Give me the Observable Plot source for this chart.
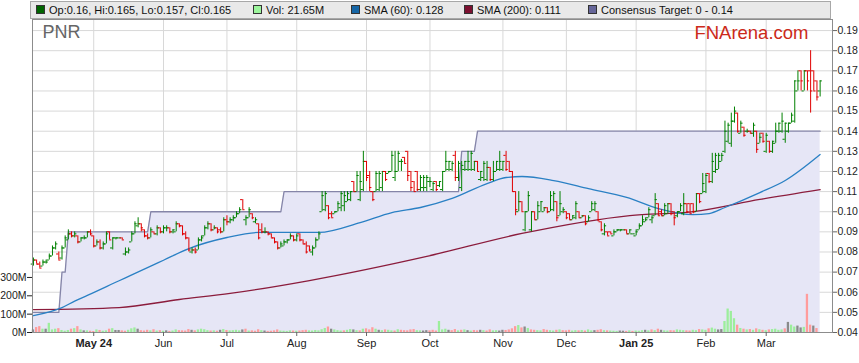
<!DOCTYPE html>
<html><head><meta charset="utf-8">
<script src="https://cdn.jsdelivr.net/npm/d3@7"></script>
<script src="https://cdn.jsdelivr.net/npm/@observablehq/plot@0.6"></script>
<style>
body{margin:0;background:#fff;font-family:"Liberation Sans",Arial,sans-serif;}
#wrap{position:relative;width:859px;height:363px;overflow:hidden;background:#fff;}
#wrap svg{position:absolute;left:0;top:0;}
#legend{position:absolute;left:30px;top:1px;width:799px;height:16px;background:#e9e9e9;border:1px solid #a8a8a8;font-size:11px;color:#111;line-height:16px;}
.item{position:absolute;top:0;white-space:nowrap;}
.sw{display:inline-block;width:7px;height:7px;border:1px solid #333;margin-right:4px;vertical-align:-0px;}
</style></head><body><div id="wrap"><div id="legend"></div></div>
<script>
// ---- data (prices in thousandths of a dollar) ----
const ohlc = [
[74,77,73,76],[76,76,74,74],[74,75,72,72],[73,76,73,75],[75,76,74,75],[76,79,76,78],[78,83,78,82],[82,85,81,84],[79,80,76,76],[77,83,76,82],
[82,88,82,87],[86,91,86,89],[89,90,87,88],[88,90,87,89],[88,88,84,85],[85,87,85,87],[87,88,86,87],[87,90,87,90],[90,91,88,89],[88,88,82,83],
[83,86,83,85],[85,86,81,82],[82,85,81,84],[84,90,84,89],[90,90,86,86],[82,87,81,87],[87,87,86,87],[87,87,87,87],[87,87,86,86],[79,82,78,80],
[80,82,79,81],[85,90,85,89],[89,95,89,94],[93,97,92,94],[94,94,90,92],[91,91,87,88],[88,89,86,87],[87,92,87,91],[90,90,89,89],[89,93,88,92],
[92,92,89,90],[90,93,89,92],[92,93,90,92],[92,92,89,90],[90,91,89,91],[90,95,90,94],[94,94,92,93],[93,93,88,89],[89,90,86,87],[87,87,80,81],
[80,82,79,81],[81,82,79,80],[81,87,81,86],[86,88,85,87],[88,93,88,92],[92,95,91,94],[94,94,90,91],[91,93,91,92],[92,92,89,90],[91,92,89,90],
[90,97,90,96],[96,98,93,95],[95,97,94,96],
[96,98,95,97],[97,100,97,99],[99,102,99,101],[106,106,101,101],[96,98,93,97],[97,102,97,101],[99,99,96,97],[95,97,94,96],[94,94,86,87],[91,94,89,90],
[90,92,89,90],[90,90,88,89],[89,89,87,87],[87,87,84,85],[85,85,81,82],[82,85,82,84],[83,86,83,85],[85,86,84,86],[86,89,86,88],[88,88,85,86],
[86,89,85,88],[89,89,85,86],[86,86,84,84],[84,85,79,80],[83,83,80,81],[80,83,78,82],[82,87,82,86],[86,90,86,89],[100,110,100,108],[101,110,100,109],
[103,103,96,97],[99,100,97,97],[99,100,99,100],[100,105,100,104],[102,110,100,109],[103,110,100,108],[105,110,105,109],[106,110,105,110],[115,115,110,110],[110,120,110,118],
[106,120,105,115],[111,130,110,125],[125,125,115,117],[118,120,110,112],[110,110,105,106],[110,120,110,119],[111,120,110,119],[112,120,110,120],[120,120,115,116],[119,120,119,120],
[120,130,120,128],[117,130,115,120],[120,130,120,129],[125,126,120,125],[127,127,124,124],[130,130,115,118],[120,120,110,112],[115,115,110,110],[120,120,110,111],[111,118,110,117],
[112,118,110,117],
[112,118,110,117],[115,117,112,115],[111,115,110,114],[115,115,110,111],[113,115,112,115],[111,120,110,120],[120,130,120,125],[121,125,120,125],[121,125,120,124],[128,130,115,117],
[117,125,115,124],[112,125,110,123],[121,125,120,125],[121,130,120,125],[121,130,120,129],[121,125,120,125],[125,125,120,120],[116,120,115,120],[117,125,115,124],[116,125,115,122],
[122,122,115,116],[116,125,115,120],[120,125,120,125],[121,130,120,125],[121,125,120,125],[128,130,120,121],[125,125,120,120],[120,120,110,110],[110,110,98,101],[100,110,100,105],
[105,105,100,100],[91,100,90,100],[100,110,100,108],[91,100,90,100],[100,100,96,96],[96,105,96,103],[100,105,100,105],[100,102,100,102],[102,102,99,100],[100,110,100,108],
[101,110,100,109],[105,105,95,97],[98,110,98,104],[100,102,99,101],[100,100,96,97],[99,99,96,96],[96,98,96,98],[97,105,96,104],[100,100,97,97],[97,98,97,98],
[98,98,93,94],[95,98,95,97],[100,105,100,104],[101,105,100,104],[100,100,95,96],[95,95,90,91],[89,94,88,93],[90,90,88,88],[90,90,89,89],[88,91,88,90],
[90,91,90,91],[91,91,90,91],[91,91,91,91],[91,91,89,89],[89,91,89,91],
[89,89,89,89],[88,91,88,90],[91,94,91,93],[93,98,93,96],[95,97,95,96],[97,102,97,101],[96,98,94,97],[98,109,98,106],[104,104,98,98],[100,101,98,98],
[98,104,98,103],[99,104,99,104],[104,104,98,99],[100,100,93,97],[98,100,97,100],[100,104,100,103],[99,109,98,104],[104,104,99,100],[104,104,99,99],[104,104,99,100],
[100,109,100,109],[109,109,104,105],[109,119,109,114],[110,119,109,118],[119,119,114,115],[115,129,114,125],[120,129,119,128],[121,129,121,128],[125,129,125,128],[130,145,129,140],
[135,144,134,143],[134,149,132,145],[145,152,144,150],[149,149,139,140],[139,145,139,144],[142,142,137,138],[140,141,139,140],[140,140,139,139],[139,144,137,143],[140,140,129,131],
[134,139,134,137],[139,139,134,135],[130,139,129,138],[135,135,129,130],[130,135,129,135],[134,144,134,140],[140,144,139,144],[140,149,139,145],[136,144,134,144],[140,144,139,144],
[144,149,144,148],[145,165,144,165],[160,170,160,165],[170,170,160,165],[160,170,160,170],[170,170,160,165],[170,180,149,160],[170,170,160,160],[165,165,155,157],[160,165,157,165]
];
// volume in millions
const volume = [
14,27,32,18,18,50,14,18,21,11,7,11,18,21,32,14,9,9,7,5,14,11,7,9,18,21,11,11,
9,7,12,20,25,18,10,8,12,9,15,8,10,7,9,6,8,14,10,9,8,16,12,9,14,18,15,10,8,9,7,12,16,11,9,
10,12,9,14,18,8,9,7,15,10,8,6,7,9,14,8,7,6,9,8,7,8,10,12,9,8,11,9,15,22,30,18,14,10,8,9,12,16,14,10,9,18,20,14,26,18,12,10,14,12,9,8,15,12,10,9,14,16,10,9,8,
10,9,12,8,60,14,18,12,10,16,9,12,14,10,8,11,9,12,10,8,14,9,10,8,12,11,14,20,32,38,25,30,22,14,12,10,9,16,12,10,8,12,14,10,9,12,8,10,9,11,8,14,9,10,12,15,10,9,8,7,6,8,7,6,9,
6,8,7,10,12,9,14,10,18,12,9,8,10,9,14,12,10,9,8,12,10,16,14,12,20,24,18,14,16,60,128,115,75,40,22,18,14,16,12,20,15,12,10,14,16,18,12,14,20,55,40,30,35,25,28,208,40,35,21.65
];
// moving averages (bar index, value)
const sma60Idx = [0,9,13,17,27,31,38,41,49,61,71,82,90,103,113,122,132,143,149,154,164,175,187,197,208,213,218,229,237,248];
const sma60Val = [0.0484,0.0524,0.0556,0.0584,0.0657,0.0686,0.0737,0.0759,0.0817,0.0872,0.0897,0.0897,0.0897,0.0946,0.0996,0.1021,0.1066,0.1140,0.1170,0.1175,0.1155,0.1115,0.1071,0.1016,0.0986,0.0991,0.1021,0.1095,0.1155,0.1284];
const sma200Idx = [0,27,46,62,87,124,154,188,208,229,248];
const sma200Val = [0.0514,0.0524,0.0564,0.0594,0.0658,0.0778,0.0892,0.0981,0.1000,0.1061,0.1110];
// consensus target change points
const targetIdx = [0,8,9,10,11,36,37,78,79,134,135,139,140,248];
const targetVal = [0.05,0.05,0.07,0.07,0.09,0.09,0.10,0.10,0.11,0.11,0.13,0.13,0.14,0.14];
// axis ticks
const priceTicks = [0.04,0.05,0.06,0.07,0.08,0.09,0.10,0.11,0.12,0.13,0.14,0.15,0.16,0.17,0.18,0.19];
const volTicks = [0,100e6,200e6,300e6];
const monthIdx = [19,41,61,83,105,125,148,168,190,212,231];
const monthLabels = ["May 24","Jun","Jul","Aug","Sep","Oct","Nov","Dec","Jan 25","Feb","Mar"];
const boldLabels = ["May 24","Jan 25"];

// ---- build ----
const bars = ohlc.map(([o,h,l,c],i)=>({i,o:o/1000,h:h/1000,l:l/1000,c:c/1000,
  v:volume[i]*1e6, dir: i===0?0:Math.sign(c-ohlc[i-1][3])}));
const up = bars.filter(d=>d.c>=d.o), dn = bars.filter(d=>d.c<d.o);
const sma60 = sma60Idx.map((i,k)=>({i,v:sma60Val[k]}));
const sma200 = sma200Idx.map((i,k)=>({i,v:sma200Val[k]}));
const target = targetIdx.map((i,k)=>({i,t:targetVal[k]}));
const labelOf = new Map(monthIdx.map((d,k)=>[d,monthLabels[k]]));
const normalTicks = monthIdx.filter(d=>!boldLabels.includes(labelOf.get(d)));
const boldTicks = monthIdx.filter(d=>boldLabels.includes(labelOf.get(d)));

const W=859,H=363,mt=19,mb=31,ml=32,mr=27;
const xDomain=[-0.3,251.9];
const font="Liberation Sans, Arial, sans-serif";
const GREEN="#008000", RED="#e00000";

const price = Plot.plot({
  width:W,height:H,marginTop:mt,marginBottom:mb,marginLeft:ml,marginRight:mr,
  style:{fontFamily:font,fontSize:"11px",background:"#fff",color:"#222",overflow:"visible"},
  x:{domain:xDomain,axis:null},
  y:{domain:[0.04,0.1955],axis:null},
  marks:[
    Plot.ruleY(priceTicks.slice(1),{stroke:"#d8d8d8"}),
    Plot.ruleX(monthIdx,{stroke:"#d8d8d8"}),
    Plot.areaY(target,{x:"i",y1:0.04,y2:"t",fill:"#e6e6f6"}),
    Plot.line(target,{x:"i",y:"t",stroke:"#8585a8",strokeWidth:1.3}),
    Plot.line(sma200,{x:"i",y:"v",stroke:"#8b1c3c",strokeWidth:1.3,curve:"monotone-x"}),
    Plot.line(sma60,{x:"i",y:"v",stroke:"#2a80c4",strokeWidth:1.3,curve:"monotone-x"}),
    Plot.ruleX(up,{x:"i",y1:"l",y2:"h",stroke:GREEN}),
    Plot.ruleY(up,{y:"o",x1:d=>d.i-0.7,x2:"i",stroke:GREEN}),
    Plot.ruleY(up,{y:"c",x1:"i",x2:d=>d.i+0.7,stroke:GREEN}),
    Plot.ruleX(dn,{x:"i",y1:"l",y2:"h",stroke:RED}),
    Plot.ruleY(dn,{y:"o",x1:d=>d.i-0.7,x2:"i",stroke:RED}),
    Plot.ruleY(dn,{y:"c",x1:"i",x2:d=>d.i+0.7,stroke:RED}),
    Plot.frame({stroke:"#8c8c8c"}),
    Plot.axisY({anchor:"right",ticks:priceTicks,tickFormat:d3.format(".2f"),tickSize:4,tickPadding:1,stroke:"#666",fill:"#222",fontSize:10.5,label:null}),
    Plot.axisX({ticks:normalTicks,tickFormat:d=>labelOf.get(d),tickSize:4,tickPadding:3,stroke:"#666",fill:"#222",fontSize:11,label:null}),
    Plot.axisX({ticks:boldTicks,tickFormat:d=>labelOf.get(d),tickSize:4,tickPadding:3,stroke:"#666",fill:"#222",fontSize:11,fontWeight:"bold",label:null}),
    Plot.text(["PNR"],{frameAnchor:"top-left",dx:10,dy:6,fontSize:18,fill:"#666"}),
    Plot.text(["FNArena.com"],{frameAnchor:"top-right",dx:-24,dy:6,fontSize:18.5,fill:"#cc2a1a"})
  ]
});

const vol = Plot.plot({
  width:W,height:H,marginTop:mt,marginBottom:mb,marginLeft:ml,marginRight:mr,
  style:{fontFamily:font,fontSize:"11px",background:"transparent",color:"#222",overflow:"visible"},
  x:{domain:xDomain,axis:null},
  y:{domain:[0,1706e6],axis:null},
  marks:[
    Plot.rect(bars.filter(d=>d.dir>0),{x1:d=>d.i-0.36,x2:d=>d.i+0.36,y1:0,y2:"v",fill:"#9cee9c"}),
    Plot.rect(bars.filter(d=>d.dir<0),{x1:d=>d.i-0.36,x2:d=>d.i+0.36,y1:0,y2:"v",fill:"#ff9c9c"}),
    Plot.rect(bars.filter(d=>d.dir===0),{x1:d=>d.i-0.36,x2:d=>d.i+0.36,y1:0,y2:"v",fill:"#8a8a8a"}),
    Plot.axisY({anchor:"left",ticks:volTicks,tickFormat:d=>d/1e6+"M",tickSize:5,tickPadding:1,stroke:"#222",fill:"#222",fontSize:10.5,label:null})
  ]
});

const wrap=document.getElementById("wrap");
wrap.insertBefore(price, wrap.firstChild);
wrap.insertBefore(vol, document.getElementById("legend"));

// legend
const last = bars[bars.length-1];
const fmt = v => (+v.toFixed(3)).toString();
const items = [
  {left:5,color:"#006400",text:`Op:${fmt(last.o)}, Hi:${fmt(last.h)}, Lo:${fmt(last.l)}, Cl:${fmt(last.c)}`},
  {left:222,color:"#9cf59c",text:`Vol: ${volume[volume.length-1].toFixed(2)}M`},
  {left:320,color:"#1666a6",text:`SMA (60): ${sma60Val[sma60Val.length-1].toFixed(3)}`},
  {left:433,color:"#7c1030",text:`SMA (200): ${sma200Val[sma200Val.length-1].toFixed(3)}`},
  {left:557,color:"#666699",text:`Consensus Target: 0 - ${targetVal[targetVal.length-1].toFixed(2)}`}
];
const lg=document.getElementById("legend");
for(const it of items){
  const s=document.createElement("span"); s.className="item"; s.style.left=it.left+"px";
  s.innerHTML=`<span class="sw" style="background:${it.color}"></span>${it.text}`;
  lg.appendChild(s);
}
</script></body></html>
